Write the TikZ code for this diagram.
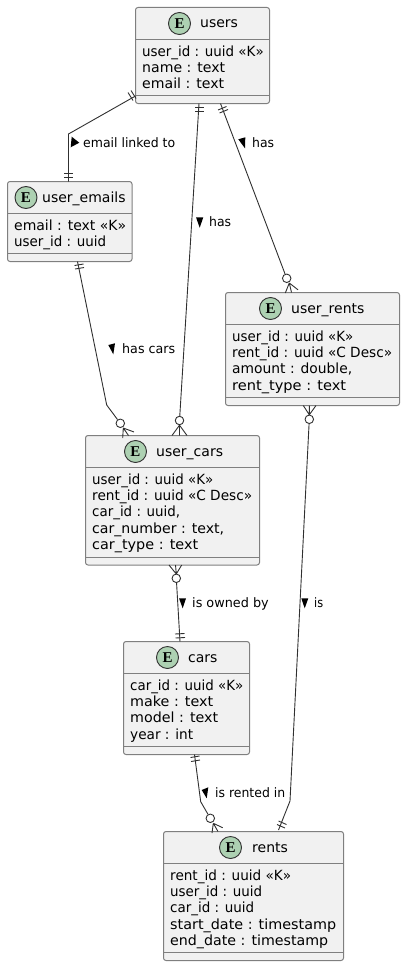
\documentclass[tikz,border=0pt]{standalone}
\usepackage{fontspec}
\usepackage{graphicx}
\setmainfont{DejaVu Sans}
\newfontfamily\badgefont{Liberation Serif}
\usetikzlibrary{calc}
\definecolor{boxfill}{HTML}{F1F1F1}
\definecolor{boxline}{HTML}{7F7F7F}
\definecolor{linkline}{HTML}{303030}
\definecolor{badgefill}{HTML}{ADD1B2}
\tikzset{
  erbox/.style={draw=boxline,fill=boxfill,line width=1pt,rounded corners=2.5pt,inner sep=0pt,outer sep=0pt,anchor=north west},
  divider/.style={draw=boxline,line width=1pt},
  badge/.style={circle,draw=linkline,fill=badgefill,line width=0.9pt,minimum size=22pt,inner sep=0pt,font=\badgefont\bfseries\fontsize{15}{15}\selectfont},
  titletext/.style={anchor=base west,inner sep=0pt,font=\fontsize{14}{16}\selectfont},
  rowtext/.style={anchor=base west,inner sep=0pt,font=\fontsize{14}{16}\selectfont},
  linktext/.style={anchor=base west,inner sep=0pt,font=\fontsize{13}{15}\selectfont},
  link/.style={draw=linkline,line width=0.9pt},
  foot/.style={draw=linkline,line width=0.9pt},
  ring/.style={circle,draw=linkline,fill=white,line width=0.9pt,minimum size=8.5pt,inner sep=0pt},
  dirmark/.style={fill=black,draw=none}
}
% name, x, y, w, h, header height, footer offset, badge x, title x
\newcommand{\erentity}[9]{%
  \node[erbox,minimum width=#4pt,minimum height=#5pt] (#1) at (#2,#3) {};
  \draw[divider] ($(#1.north west)+(0,#6)$) -- ($(#1.north east)+(0,#6)$);
  \draw[divider] ($(#1.north west)+(0,#7)$) -- ($(#1.north east)+(0,#7)$);
  \node[badge] (#1-badge) at ($(#1.north west)+(#8,16)$) {E};
  \node[titletext] (#1-title) at ($(#1.north west)+(#9,20.5)$) {\csname ttl#1\endcsname};
}
% name, row number, baseline offset, width, text
\newcommand{\errow}[5]{%
  \node[rowtext] (#1-row#2) at ($(#1.north west)+(6.5,#3)$) {\resizebox{#4pt}{\height}{#5}};
}
\newcommand{\linklabel}[5]{%
  \node[linktext] (#1) at (#2,#3) {\resizebox{#4pt}{\height}{#5}};
}
\expandafter\def\csname ttlusers\endcsname{users}
\expandafter\def\csname ttluser_emails\endcsname{user\_emails}
\expandafter\def\csname ttluser_rents\endcsname{user\_rents}
\expandafter\def\csname ttluser_cars\endcsname{user\_cars}
\expandafter\def\csname ttlcars\endcsname{cars}
\expandafter\def\csname ttlrents\endcsname{rents}
\begin{document}
\begin{tikzpicture}[x=1pt,y=-1pt]
\useasboundingbox (0,0) rectangle (405,966);
% entities
\erentity{users}{135.5}{7.5}{134}{96}{32}{88}{44}{64.5}
\errow{users}{1}{48.7}{121.5}{user\_id : uuid «K»}
\errow{users}{2}{64.7}{83}{name : text}
\errow{users}{3}{81.3}{82}{email : text}
\erentity{user_emails}{7.5}{181.5}{124.5}{80}{32}{72}{18.5}{34.5}
\errow{user_emails}{1}{48.7}{112}{email : text «K»}
\errow{user_emails}{2}{64.7}{92}{user\_id : uuid}
\erentity{user_rents}{225.5}{292.5}{174}{113}{32}{105}{45}{65.5}
\errow{user_rents}{1}{48.7}{121}{user\_id : uuid «K»}
\errow{user_rents}{2}{64.7}{160}{rent\_id : uuid «C Desc»}
\errow{user_rents}{3}{81.3}{120}{amount : double,}
\errow{user_rents}{4}{97.7}{114}{rent\_type : text}
\erentity{user_cars}{85.5}{435.5}{174}{129.5}{32}{121.5}{50}{70.5}
\errow{user_cars}{1}{48.7}{121}{user\_id : uuid «K»}
\errow{user_cars}{2}{64.7}{160}{rent\_id : uuid «C Desc»}
\errow{user_cars}{3}{81.3}{88}{car\_id : uuid,}
\errow{user_cars}{4}{97.7}{132}{car\_number : text,}
\errow{user_cars}{5}{113.7}{106}{car\_type : text}
\erentity{cars}{123.5}{641.5}{126}{113}{32}{105}{44}{64.5}
\errow{cars}{1}{48.7}{113}{car\_id : uuid «K»}
\errow{cars}{2}{64.7}{83}{make : text}
\errow{cars}{3}{81.3}{88}{model : text}
\errow{cars}{4}{97.7}{63}{year : int}
\erentity{rents}{163.5}{831.5}{180}{129}{32}{121}{67}{88.5}
\errow{rents}{1}{48.7}{121}{rent\_id : uuid «K»}
\errow{rents}{2}{64.7}{92}{user\_id : uuid}
\errow{rents}{3}{81.3}{84}{car\_id : uuid}
\errow{rents}{4}{97.7}{166}{start\_date : timestamp}
\errow{rents}{5}{113.7}{158}{end\_date : timestamp}
% rings
\node[ring] (o-cars2) at (179.5,420.5) {};
\node[ring] (o-rents1) at (286.7,278.3) {};
\node[ring] (o-cars1) at (120.3,423.3) {};
\node[ring] (o-ur) at (309.3,419.3) {};
\node[ring] (o-uc) at (176.3,578.3) {};
\node[ring] (o-re) at (210.3,818.3) {};
% users -- user_emails
\draw[link] ($(users.south west)+(0,-7.5)$) -- (68.5,134) -- ($(user_emails.north west)+(61,0)$);
\draw[foot] (128,92.5) -- (133,100.5) (131,90.5) -- (136,98.5);
\draw[foot] (64,173) -- (73,173) (64,177) -- (73,177);
% users -- user_cars
\draw[link] ($(users.south west)+(63.5,0)$) -- (o-cars2);
\draw[foot] (195,107.5) -- (204,107.5) (195,111) -- (204,111);
\draw[foot] (o-cars2.south) -- ($(user_cars.north west)+(86.5,0)$) (o-cars2.south) -- ($(user_cars.north west)+(94,0)$) (o-cars2.south) -- ($(user_cars.north west)+(101.5,0)$);
% users -- user_rents
\draw[link] ($(users.south west)+(85,0)$) -- (o-rents1);
\draw[foot] (218,110) -- (226.5,106.5) (219.5,113) -- (228,109.5);
\draw[foot] (289.3,283) -- ($(user_rents.north west)+(59.8,0.5)$) (289.3,283) -- ($(user_rents.north west)+(66,0)$) (289.3,283) -- (298,289.8);
% user_emails -- user_cars
\draw[link] ($(user_emails.south west)+(70,0)$) -- (106.7,405) -- (o-cars1);
\draw[foot] (74.5,265.5) -- (83.5,264) (75,269) -- (84,267.5);
\draw[foot] (123.3,428) -- (122.7,438) (123.3,428) -- (134,432) (123.3,428) -- (128.5,435.5);
% user_rents -- rents
\draw[link] (o-ur) -- (290,801) -- ($(rents.north west)+(115,-1.5)$);
\draw[foot] (309.3,414.8) -- ($(user_rents.south west)+(77.8,0)$) (309.3,414.8) -- ($(user_rents.south west)+(83.8,0)$) (309.3,414.8) -- ($(user_rents.south west)+(90.5,0)$);
\draw[foot] (277,824.5) -- (285,828) (278.5,821) -- (286.5,824.5);
% user_cars -- cars
\draw[link] (o-uc) -- ($(cars.north west)+(56.5,0)$);
\draw[foot] (176.3,574) -- ($(user_cars.south west)+(83.5,0)$) (176.3,574) -- ($(user_cars.south west)+(90,0)$) (176.3,574) -- ($(user_cars.south west)+(96.2,0)$);
\draw[foot] (175,634) -- (184.5,633.5) (175.5,638) -- (185,637.5);
% cars -- rents
\draw[link] ($(cars.south west)+(71,0)$) -- (200.7,801.7) -- (o-re);
\draw[foot] (190.5,757.5) -- (199.5,756) (191,761.5) -- (200,760);
\draw[foot] (213.3,823.3) -- (212,833) (213.3,823.3) -- (222.7,827.7) (213.3,823.3) -- (218,831.5);
% direction marks
\fill[dirmark] (71.7,136.7) -- (79.3,142.7) -- (70.7,147.3) -- cycle;
\fill[dirmark] (238.3,139.3) -- (245.3,137.3) -- (245,148.3) -- cycle;
\fill[dirmark] (196,217.3) -- (203.3,217.3) -- (199.7,227.7) -- cycle;
\fill[dirmark] (108.3,345) -- (115,343.3) -- (113.3,354.3) -- cycle;
\fill[dirmark] (179,598.3) -- (186,598.3) -- (182.7,608.3) -- cycle;
\fill[dirmark] (301.3,598.3) -- (308.3,598.3) -- (304.7,608.3) -- cycle;
\fill[dirmark] (201.7,790) -- (208.3,787.3) -- (206.7,798.3) -- cycle;
% labels
\linklabel{l1}{83}{147.5}{92}{email linked to}
\linklabel{l2}{252}{147.5}{22}{has}
\linklabel{l3}{209}{226}{22}{has}
\linklabel{l4}{122}{353}{53}{has cars}
\linklabel{l5}{192}{607}{76.5}{is owned by}
\linklabel{l6}{314}{607}{9}{is}
\linklabel{l7}{215}{797}{70}{is rented in}
\end{tikzpicture}
\end{document}
